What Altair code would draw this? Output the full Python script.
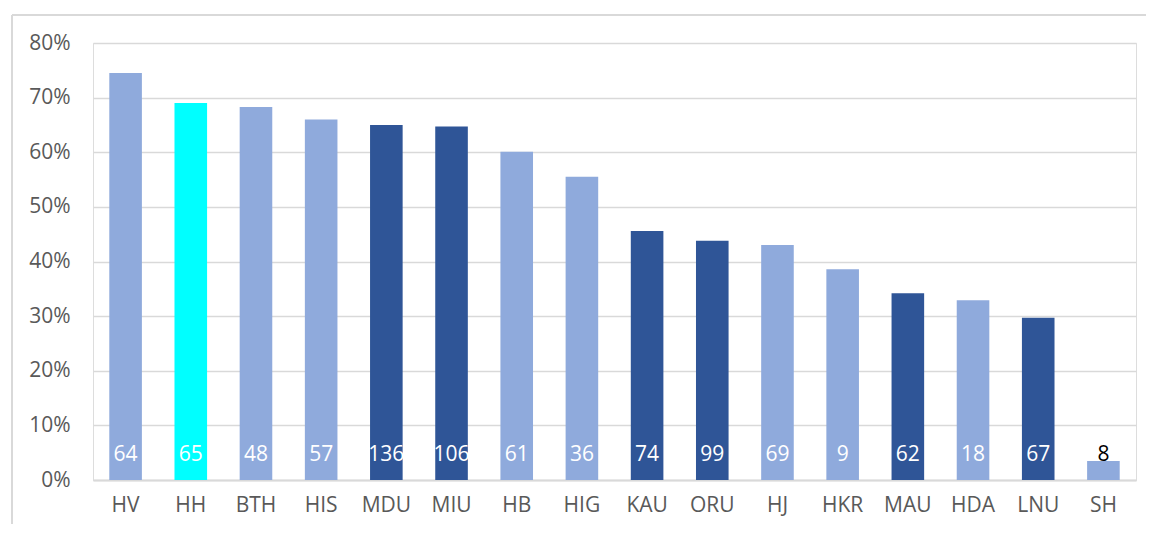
import altair as alt
import pandas as pd

categories = ["HV", "HH", "BTH", "HIS", "MDU", "MIU", "HB", "HIG",
              "KAU", "ORU", "HJ", "HKR", "MAU", "HDA", "LNU", "SH"]
shares = [0.745, 0.690, 0.683, 0.660, 0.650, 0.647, 0.601, 0.555,
          0.456, 0.438, 0.430, 0.386, 0.342, 0.329, 0.297, 0.035]
counts = [64, 65, 48, 57, 136, 106, 61, 36, 74, 99, 69, 9, 62, 18, 67, 8]
groups = ["light", "highlight", "light", "light", "dark", "dark", "light", "light",
          "dark", "dark", "light", "light", "dark", "light", "dark", "light"]
label_colors = ["white"] * 15 + ["black"]

df = pd.DataFrame({
    "cat": categories,
    "share": shares,
    "n": counts,
    "group": groups,
    "lc": label_colors,
})

W, H = 1043, 437
FONT = "Open Sans"

xenc = alt.X("cat:N", sort=None,
             scale=alt.Scale(paddingInner=0.5, paddingOuter=0.25),
             axis=alt.Axis(title=None, labelAngle=0, labelFont=FONT, labelFontSize=21,
                           labelColor="#595959", ticks=False, domainColor="#D9D9D9",
                           domainWidth=2, labelPadding=14))

bars = alt.Chart(df).mark_bar().encode(
    x=xenc,
    y=alt.Y("share:Q", scale=alt.Scale(domain=[0, 0.8]),
            axis=alt.Axis(title=None, format=".0%", values=[0, .1, .2, .3, .4, .5, .6, .7, .8],
                          labelFont=FONT, labelFontSize=21, labelColor="#595959",
                          ticks=False, domain=False, gridColor="#D9D9D9", gridWidth=1.5,
                          labelPadding=23)),
    color=alt.Color("group:N",
                    scale=alt.Scale(domain=["light", "highlight", "dark"],
                                    range=["#8FAADC", "#00FFFF", "#2F5597"]),
                    legend=None),
)

labels = alt.Chart(df).mark_text(baseline="middle", align="center", font=FONT,
                                 fontSize=21, dy=-25).encode(
    x=alt.X("cat:N", sort=None),
    y=alt.datum(0),
    text=alt.Text("n:Q"),
    color=alt.Color("lc:N", scale=None),
)

top_border = alt.Chart(df).mark_rule(color="#D9D9D9", strokeWidth=1.5).encode(
    x=alt.value(-81), x2=alt.value(W + 80), y=alt.value(-28))
left_border = alt.Chart(df).mark_rule(color="#D9D9D9", strokeWidth=1.5).encode(
    x=alt.value(-81), y=alt.value(-28), y2=alt.value(H + 60))

chart = alt.layer(bars, labels, top_border, left_border).properties(
    width=W, height=H,
    autosize=alt.AutoSizeParams(type="none"),
    padding={"left": 85, "top": 35, "right": 10, "bottom": 44},
).configure_view(stroke=None).configure(background="white")

chart.save("out.html", embed_options={"renderer": "svg", "actions": False})
